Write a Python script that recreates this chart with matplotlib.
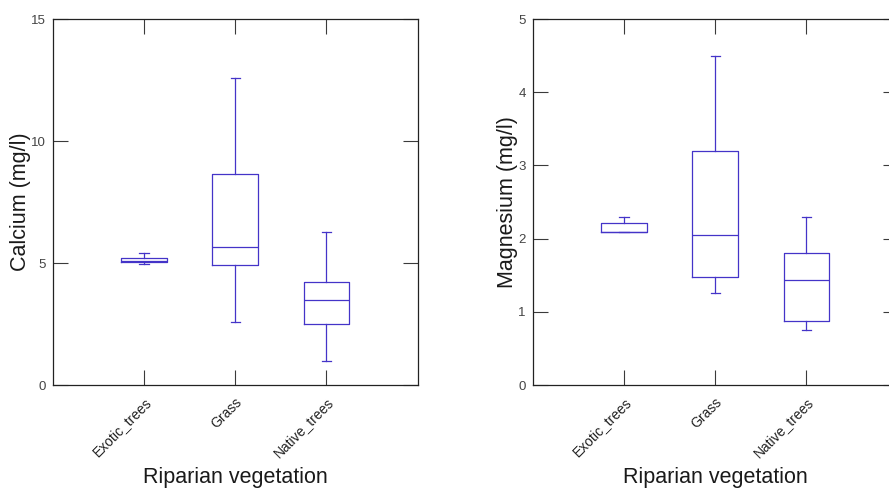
import matplotlib
matplotlib.use("Agg")
import matplotlib.pyplot as plt

plt.rcParams['font.family'] = ['Liberation Sans', 'DejaVu Sans']

categories = ["Exotic_trees", "Grass", "Native_trees"]
xlabel = "Riparian vegetation"

# Calcium summary statistics (mg/l)
ca_whislo = [4.96, 2.60, 0.98]
ca_q1 = [5.05, 4.93, 2.50]
ca_med = [5.07, 5.64, 3.47]
ca_q3 = [5.20, 8.63, 4.21]
ca_whishi = [5.40, 12.60, 6.28]

# Magnesium summary statistics (mg/l)
mg_whislo = [2.09, 1.26, 0.75]
mg_q1 = [2.09, 1.48, 0.88]
mg_med = [2.09, 2.05, 1.44]
mg_q3 = [2.21, 3.20, 1.80]
mg_whishi = [2.30, 4.50, 2.30]

ca_ticks = [0, 5, 10, 15]
mg_ticks = [0, 1, 2, 3, 4, 5]

BOX_COLOR = "#4434c8"
TICK_COLOR = "#3a3a3a"


def make_stats(lo, q1, med, q3, hi):
    return [dict(whislo=a, q1=b, med=c, q3=d, whishi=e, fliers=[], label=n)
            for a, b, c, d, e, n in zip(lo, q1, med, q3, hi, categories)]


def draw_panel(ax, stats, ylim, yticks, ylabel):
    lp = dict(color=BOX_COLOR, linewidth=0.9)
    ax.bxp(stats, positions=[1, 2, 3], widths=0.5, capwidths=0.1,
           showfliers=False, boxprops=lp, whiskerprops=lp, capprops=lp,
           medianprops=lp)
    ax.set_xlim(0, 4)
    ax.set_ylim(*ylim)
    ax.set_yticks(yticks)
    ax.set_yticklabels([str(t) for t in yticks])
    ax.set_xticks([1, 2, 3])
    ax.set_xticklabels(categories, rotation=45, ha="right", va="top",
                       rotation_mode="anchor", fontsize=10, color="#222222")
    ax.tick_params(axis="both", direction="in", length=11, width=0.8,
                   color=TICK_COLOR, top=True, right=True)
    ax.tick_params(axis="y", labelsize=9.5, labelcolor="#444444", pad=5)
    ax.tick_params(axis="x", pad=7)
    for s in ax.spines.values():
        s.set_linewidth(0.9)
        s.set_color("#222222")
    ax.set_ylabel(ylabel, fontsize=15.5, color="#1a1a1a", labelpad=0)
    ax.set_xlabel(xlabel, fontsize=15.5, color="#1a1a1a", va="baseline")
    ax.xaxis.set_label_coords(0.5, -98 / 366)


fig = plt.figure(figsize=(8.89, 4.88), dpi=100)
ax1 = fig.add_axes([52.7 / 889, 103 / 488, 365 / 889, 366 / 488])
ax2 = fig.add_axes([532.7 / 889, 103 / 488, 365 / 889, 366 / 488])

draw_panel(ax1, make_stats(ca_whislo, ca_q1, ca_med, ca_q3, ca_whishi),
           (0, 15), ca_ticks, "Calcium (mg/l)")
draw_panel(ax2, make_stats(mg_whislo, mg_q1, mg_med, mg_q3, mg_whishi),
           (0, 5), mg_ticks, "Magnesium (mg/l)")

fig.savefig("out.png", dpi=100)
